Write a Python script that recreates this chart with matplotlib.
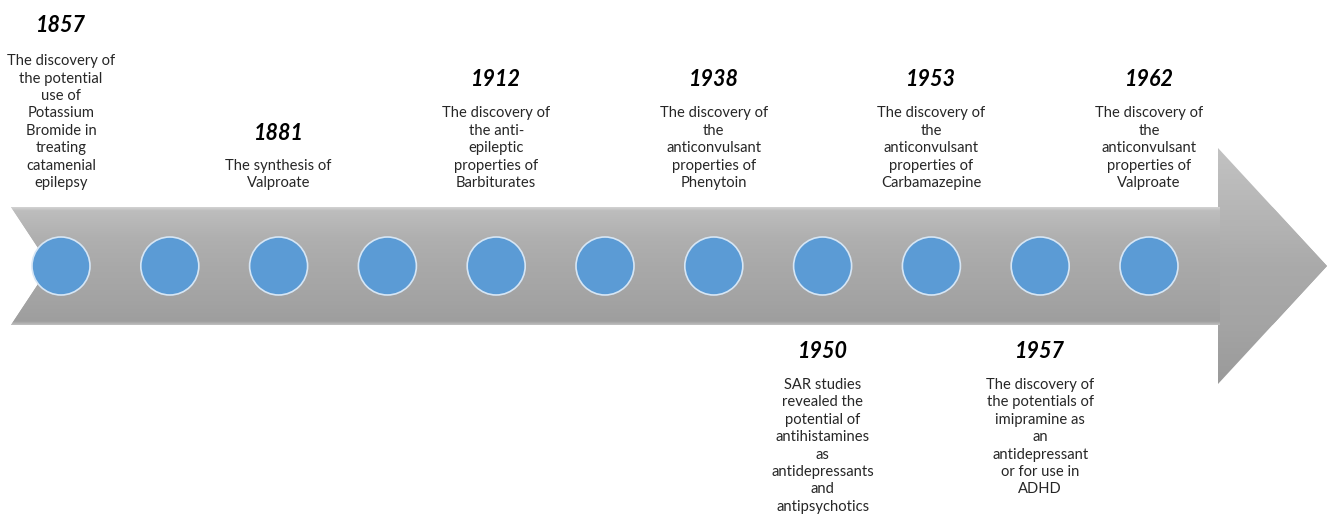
import matplotlib
matplotlib.use("Agg")
import matplotlib.pyplot as plt
import numpy as np
from matplotlib.patches import Polygon, Circle
from matplotlib.colors import LinearSegmentedColormap

# ---- data ----
n_slots = 11
years = ["1857", "1881", "1912", "1938", "1950", "1953", "1957", "1962"]
slots = [0, 2, 4, 6, 7, 8, 9, 10]
sides = ["top", "top", "top", "top", "bottom", "top", "bottom", "top"]
descriptions = [
    "The discovery of\nthe potential\nuse of\nPotassium\nBromide in\ntreating\ncatamenial\nepilepsy",
    "The synthesis of\nValproate",
    "The discovery of\nthe anti-\nepileptic\nproperties of\nBarbiturates",
    "The discovery of\nthe\nanticonvulsant\nproperties of\nPhenytoin",
    "SAR studies\nrevealed the\npotential of\nantihistamines\nas\nantidepressants\nand\nantipsychotics",
    "The discovery of\nthe\nanticonvulsant\nproperties of\nCarbamazepine",
    "The discovery of\nthe potentials of\nimipramine as\nan\nantidepressant\nor for use in\nADHD",
    "The discovery of\nthe\nanticonvulsant\nproperties of\nValproate",
]

W, H = 1327, 516
fig = plt.figure(figsize=(W / 100, H / 100), dpi=100)
ax = fig.add_axes([0, 0, 1, 1])
ax.set_xlim(0, W)
ax.set_ylim(H, 0)
ax.axis("off")

# arrow geometry (pixels)
yc = 266
body_top, body_bot = 207, 325
x_left, notch_x, head_x, tip_x = 11, 50, 1218, 1327
head_top, head_bot = 148, 384
arrow_pts = [
    (x_left, body_top), (head_x, body_top), (head_x, head_top), (tip_x, yc),
    (head_x, head_bot), (head_x, body_bot), (x_left, body_bot), (notch_x, yc),
]
arrow = Polygon(arrow_pts, closed=True, facecolor="none", edgecolor="none")
ax.add_patch(arrow)

cmap = LinearSegmentedColormap.from_list(
    "g",
    [(0.0, "#d2d2d2"), (0.03, "#bdbdbd"), (0.25, "#b0b0b0"), (0.5, "#a9a9a9"),
     (0.8, "#a3a3a3"), (0.97, "#9e9e9e"), (1.0, "#c0c0c0")],
)
grad = np.linspace(0, 1, 256).reshape(-1, 1)
im = ax.imshow(grad, cmap=cmap, extent=(x_left, tip_x, body_bot, body_top),
               aspect="auto", zorder=1, interpolation="bilinear")
im.set_clip_path(arrow)
head_poly = Polygon([(head_x, head_top), (tip_x, yc), (head_x, head_bot)],
                    closed=True, facecolor="none", edgecolor="none")
ax.add_patch(head_poly)
cmap2 = LinearSegmentedColormap.from_list(
    "g2", [(0.0, "#c2c2c2"), (0.35, "#b2b2b2"), (0.5, "#aaaaaa"), (0.75, "#a4a4a4"), (1.0, "#9a9a9a")])
im2 = ax.imshow(grad, cmap=cmap2, extent=(head_x, tip_x, head_bot, head_top),
                aspect="auto", zorder=1.1, interpolation="bilinear")
im2.set_clip_path(head_poly)
body_poly = Polygon([(x_left, body_top), (head_x + 2, body_top), (head_x + 2, body_bot),
                     (x_left, body_bot), (notch_x, yc)], closed=True,
                    facecolor="none", edgecolor="none")
ax.add_patch(body_poly)
im3 = ax.imshow(grad, cmap=cmap, extent=(x_left, tip_x, body_bot, body_top),
                aspect="auto", zorder=1.2, interpolation="bilinear")
im3.set_clip_path(body_poly)

# circles
x0, dx = 61, 108.8
r = 29
for i in range(n_slots):
    cx = x0 + dx * i
    ax.add_patch(Circle((cx, yc), r, facecolor="#5b9bd5", edgecolor="#d6e6f5",
                        linewidth=1.2, zorder=3))

# texts
body_font = "Lato"
fs_body = 10.6
fs_year = 15.5
line_h = 17.4
top_year_y = {0: 25, 2: 133}
for yr, s, side, desc in zip(years, slots, sides, descriptions):
    cx = x0 + dx * s
    nlines = desc.count("\n") + 1
    if side == "top":
        last_line = 183
        first_line = last_line - (nlines - 1) * line_h
        yy = top_year_y.get(s, 80)
    else:
        first_line = 385
        yy = 352
    ax.text(cx, yy, yr, ha="center", va="center", fontsize=fs_year,
            fontweight="bold", fontstyle="italic", family=body_font, color="#000000")
    for k, line in enumerate(desc.split("\n")):
        ax.text(cx, first_line + k * line_h, line, ha="center", va="center",
                fontsize=fs_body, family=body_font, color="#262626")

fig.savefig("out.png", dpi=100)
